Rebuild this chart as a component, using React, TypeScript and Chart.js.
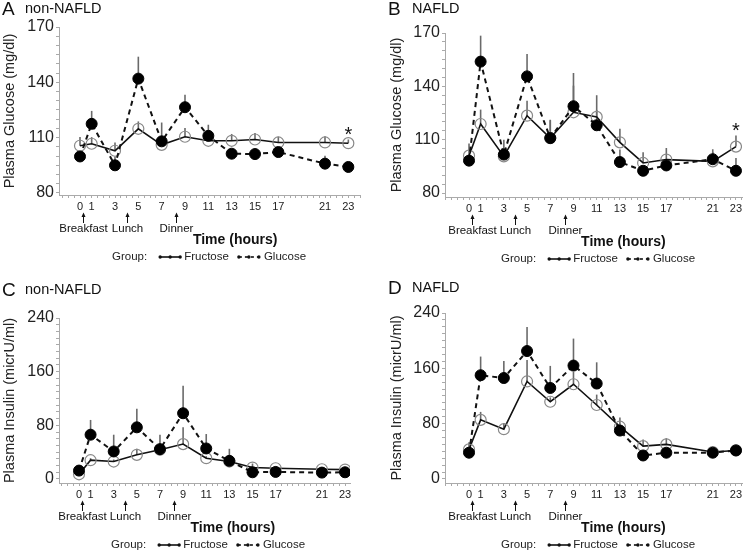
import React, { useEffect, useRef } from 'react';
import { Chart, registerables } from 'chart.js';

Chart.register(...registerables);

const FONT = '"Liberation Sans", Arial, Helvetica, sans-serif';

// ---- shared categories / labels ----
const hours = [0, 1, 3, 5, 7, 9, 11, 13, 15, 17, 21, 23];
const hourTickLabels = [0, 1, 3, 5, 7, 9, 11, 13, 15, 17, 21, 23];
const mealNames = ['Breakfast', 'Lunch', 'Dinner'];
const mealHours = [0.25, 4, 8.25];
const groupNames = ['Fructose', 'Glucose'];
const glucoseYTicks = [80, 110, 140, 170];
const insulinYTicks = [0, 80, 160, 240];

// ---- A: non-NAFLD plasma glucose ----
const aFructose = [105.6, 106.7, 102.9, 114.8, 106.1, 110.5, 108.3, 108.3, 109.0, 107.4, 107.4, 107.0];
const aFructoseUpper = [110.3, 110.3, 107.4, 118.8, 109.0, 115.2, 111.6, 112.0, 112.5, 110.5, 110.7, 109.0];
const aGlucose = [99.8, 117.5, 95.0, 142.0, 108.0, 126.5, 111.0, 101.3, 101.1, 102.2, 95.9, 94.1];
const aGlucoseUpper = [102.0, 124.5, 99.8, 153.9, 118.2, 133.2, 117.0, 103.0, 103.0, 104.0, 100.2, 96.0];

// ---- B: NAFLD plasma glucose ----
const bFructose = [101.0, 118.8, 100.6, 123.5, 110.9, 125.4, 122.8, 108.5, 96.9, 98.8, 97.8, 106.1];
const bFructoseUpper = [107.8, 126.9, 105.3, 131.9, 121.2, 140.4, 135.0, 116.2, 102.9, 105.3, 104.6, 112.3];
const bGlucose = [98.2, 153.9, 101.6, 145.6, 110.9, 128.8, 118.1, 97.4, 92.5, 95.5, 99.0, 92.5];
const bGlucoseUpper = [100.0, 168.5, 110.0, 158.2, 120.9, 147.5, 126.7, 104.4, 94.0, 97.0, 103.0, 99.7];

// ---- C: non-NAFLD plasma insulin ----
const cFructose = [7, 28, 26, 36, 43.5, 52, 31, 26, 17, 16, 14.5, 14];
const cFructoseUpper = [10, 31, 29, 45, 50, 77, 34, 29, 23, 19, 17, 17];
const cGlucose = [12.5, 66, 41, 77, 44.5, 98, 45.5, 27, 10, 10.5, 9.5, 10];
const cGlucoseUpper = [14, 88, 66, 104.6, 66, 139, 67, 45, 12, 12, 11, 12];

// ---- D: NAFLD plasma insulin ----
const dFructose = [42.8, 85.5, 72, 141, 111.7, 137, 107, 75.6, 47.5, 50, 39, 41.3];
const dFructoseUpper = [53, 97, 81, 172, 118, 155, 122, 89, 57, 59, 44, 49];
const dGlucose = [38, 150, 146, 185, 131.6, 164, 138, 70, 34, 38, 38, 41.3];
const dGlucoseUpper = [40, 177, 170.6, 219.7, 163.5, 203, 168.7, 80, 36, 40, 40, 43];

type Panel = {
  letter: string;
  cohort: string;
  yTitle: string;
  left: number;
  top: number;
  plotLeft: number;
  plotTop: number;
  plotBottom: number;
  plotRight: number;
  titleShift: number;
  xMin: number;
  xMax: number;
  yMin: number;
  yMax: number;
  yMajor: number[];
  yMinorStep: number;
  fructose: number[];
  fructoseUpper: number[];
  glucose: number[];
  glucoseUpper: number[];
  star: number | null;
  letterX: number;
  letterY: number;
  cohortX: number;
};

const W = 375;
const H = 275;
const X_AXIS_H = 20;

const panels: Panel[] = [
  {
    letter: 'A', cohort: 'non-NAFLD', yTitle: 'Plasma Glucose (mg/dl)', left: 0, top: 0,
    plotLeft: 59, plotTop: 27, plotBottom: 195, plotRight: 360, titleShift: 1,
    xMin: -1.8, xMax: 24.0, yMin: 78.9, yMax: 170, yMajor: glucoseYTicks, yMinorStep: 5,
    fructose: aFructose, fructoseUpper: aFructoseUpper, glucose: aGlucose, glucoseUpper: aGlucoseUpper,
    star: 114.3, letterX: 2, letterY: 10, cohortX: 25,
  },
  {
    letter: 'B', cohort: 'NAFLD', yTitle: 'Plasma Glucose (mg/dl)', left: 375, top: 0,
    plotLeft: 70, plotTop: 33, plotBottom: 197, plotRight: 367, titleShift: 13,
    xMin: -2.07, xMax: 23.52, yMin: 77.75, yMax: 170, yMajor: glucoseYTicks, yMinorStep: 5,
    fructose: bFructose, fructoseUpper: bFructoseUpper, glucose: bGlucose, glucoseUpper: bGlucoseUpper,
    star: 117.5, letterX: 13, letterY: 10, cohortX: 37,
  },
  {
    letter: 'C', cohort: 'non-NAFLD', yTitle: 'Plasma Insulin (micrU/ml)', left: 0, top: 275,
    plotLeft: 59, plotTop: 43, plotBottom: 208, plotRight: 350, titleShift: 1,
    xMin: -1.73, xMax: 23.43, yMin: -6, yMax: 240, yMajor: insulinYTicks, yMinorStep: 10,
    fructose: cFructose, fructoseUpper: cFructoseUpper, glucose: cGlucose, glucoseUpper: cGlucoseUpper,
    star: null, letterX: 2, letterY: 16, cohortX: 25,
  },
  {
    letter: 'D', cohort: 'NAFLD', yTitle: 'Plasma Insulin (micrU/ml)', left: 375, top: 275,
    plotLeft: 70, plotTop: 38, plotBottom: 208, plotRight: 367, titleShift: 13,
    xMin: -2.07, xMax: 23.52, yMin: -5.8, yMax: 240, yMajor: insulinYTicks, yMinorStep: 10,
    fructose: dFructose, fructoseUpper: dFructoseUpper, glucose: dGlucose, glucoseUpper: dGlucoseUpper,
    star: null, letterX: 13, letterY: 14, cohortX: 37,
  },
];

function makePlugin(p: Panel) {
  return {
    id: 'panelDecor' + p.letter,
    beforeDatasetsDraw(chart: any) {
      const ctx = chart.ctx;
      const ys = chart.scales.y;
      ctx.save();
      ctx.strokeStyle = '#6a6a6a';
      ctx.lineWidth = 1.6;
      ctx.setLineDash([]);
      chart.data.datasets.forEach((ds: any, di: number) => {
        const meta = chart.getDatasetMeta(di);
        const up: number[] = ds.errorUpper;
        meta.data.forEach((pt: any, i: number) => {
          const y2 = ys.getPixelForValue(up[i]);
          ctx.beginPath();
          ctx.moveTo(pt.x, pt.y);
          ctx.lineTo(pt.x, y2);
          ctx.stroke();
        });
      });
      ctx.restore();
    },
    afterDraw(chart: any) {
      const ctx = chart.ctx;
      const xs = chart.scales.x;
      const ys = chart.scales.y;
      const b = chart.chartArea.bottom;
      ctx.save();
      ctx.fillStyle = '#111';
      ctx.strokeStyle = '#111';
      ctx.textAlign = 'left';
      ctx.textBaseline = 'middle';
      // panel heading
      ctx.font = `19px ${FONT}`;
      ctx.fillText(p.letter, p.letterX, p.letterY);
      ctx.font = `14.5px ${FONT}`;
      ctx.fillText(p.cohort, p.cohortX, p.letterY - 1.5);

      // significance star
      if (p.star !== null) {
        ctx.font = `20px ${FONT}`;
        ctx.textAlign = 'center';
        ctx.textBaseline = 'alphabetic';
        ctx.fillText('*', xs.getPixelForValue(23), ys.getPixelForValue(p.star) + 11);
      }

      // meal arrows
      ctx.textAlign = 'center';
      ctx.textBaseline = 'middle';
      ctx.font = `11.5px ${FONT}`;
      ctx.lineWidth = 1;
      mealHours.forEach((h, i) => {
        const x = Math.round(xs.getPixelForValue(h)) + 0.5;
        ctx.beginPath();
        ctx.moveTo(x, b + 21);
        ctx.lineTo(x, b + 28);
        ctx.stroke();
        ctx.beginPath();
        ctx.moveTo(x, b + 17.5);
        ctx.lineTo(x - 2, b + 22);
        ctx.lineTo(x + 2, b + 22);
        ctx.closePath();
        ctx.fill();
        ctx.fillText(mealNames[i], x, b + 33.5);
      });

      // x axis title
      ctx.font = `bold 14px ${FONT}`;
      ctx.fillText('Time (hours)', xs.getPixelForValue(13.3), b + 45);

      // legend
      const ly = b + 62;
      let lx = xs.getPixelForValue(0) + 32;
      ctx.textAlign = 'left';
      ctx.font = `11.5px ${FONT}`;
      ctx.fillStyle = '#222';
      ctx.fillText('Group:', lx, ly);
      lx += ctx.measureText('Group:').width + 13;
      const sample = (x0: number, dashed: boolean) => {
        ctx.save();
        ctx.strokeStyle = '#111';
        ctx.fillStyle = '#111';
        ctx.lineWidth = 1.6;
        ctx.setLineDash(dashed ? [3, 3] : []);
        ctx.beginPath();
        ctx.moveTo(x0, ly);
        ctx.lineTo(x0 + 20, ly);
        ctx.stroke();
        ctx.setLineDash([]);
        [0, 10, 20].forEach((dx) => {
          ctx.beginPath();
          ctx.arc(x0 + dx, ly, 1.7, 0, Math.PI * 2);
          ctx.fill();
        });
        ctx.restore();
      };
      sample(lx, false);
      lx += 24;
      ctx.fillText(groupNames[0], lx, ly);
      lx += ctx.measureText(groupNames[0]).width + 10;
      sample(lx, true);
      lx += 25;
      ctx.fillText(groupNames[1], lx, ly);
      ctx.restore();
    },
  };
}

function PanelChart({ p }: { p: Panel }) {
  const ref = useRef<HTMLCanvasElement | null>(null);
  useEffect(() => {
    if (!ref.current) return;
    const xTicks: number[] = [];
    for (let k = Math.ceil(p.xMin * 2); k <= Math.floor(p.xMax * 2); k++) xTicks.push(k / 2);
    const yTicks: number[] = [];
    for (let v = Math.ceil(p.yMin / p.yMinorStep) * p.yMinorStep; v <= p.yMax; v += p.yMinorStep) yTicks.push(v);

    const chart = new Chart(ref.current, {
      type: 'line',
      data: {
        datasets: [
          {
            label: groupNames[1],
            data: hours.map((h, i) => ({ x: h, y: p.glucose[i] })),
            borderColor: '#111',
            borderWidth: 2,
            borderDash: [5, 4],
            pointRadius: 5.5,
            pointBackgroundColor: '#000',
            pointBorderColor: '#000',
            pointBorderWidth: 1,
            tension: 0,
            errorUpper: p.glucoseUpper,
          } as any,
          {
            label: groupNames[0],
            data: hours.map((h, i) => ({ x: h, y: p.fructose[i] })),
            borderColor: '#111',
            borderWidth: 1.6,
            pointRadius: 5.5,
            pointBackgroundColor: 'rgba(255,255,255,0)',
            pointBorderColor: '#888',
            pointBorderWidth: 1.2,
            tension: 0,
            errorUpper: p.fructoseUpper,
          } as any,
        ],
      },
      options: {
        responsive: false,
        animation: false,
        devicePixelRatio: 1,
        layout: {
          padding: { left: 0, top: p.plotTop, right: W - p.plotRight, bottom: H - p.plotBottom - X_AXIS_H },
        },
        plugins: { legend: { display: false }, tooltip: { enabled: false }, title: { display: false } },
        scales: {
          x: {
            type: 'linear',
            min: p.xMin,
            max: p.xMax,
            afterBuildTicks: (s: any) => { s.ticks = xTicks.map((v) => ({ value: v })); },
            afterFit: (s: any) => { s.height = X_AXIS_H; },
            grid: { drawOnChartArea: false, drawTicks: true, tickLength: 3, color: '#aaa' },
            border: { color: '#aaa', width: 1 },
            ticks: {
              autoSkip: false,
              maxRotation: 0,
              minRotation: 0,
              padding: 2,
              color: '#222',
              font: { family: FONT, size: 11 },
              callback: (v: any) => (hourTickLabels.includes(Number(v)) ? String(v) : ''),
            },
          },
          y: {
            type: 'linear',
            min: p.yMin,
            max: p.yMax,
            afterBuildTicks: (s: any) => { s.ticks = yTicks.map((v) => ({ value: v })); },
            afterFit: (s: any) => { s.width = p.plotLeft; },
            title: {
              display: true,
              text: p.yTitle,
              color: '#222',
              font: { family: FONT, size: 14.5 },
              padding: { top: p.titleShift, bottom: 0 },
            },
            grid: { drawOnChartArea: false, drawTicks: true, tickLength: 3, color: '#aaa' },
            border: { color: '#aaa', width: 1 },
            ticks: {
              autoSkip: false,
              padding: 2,
              color: '#222',
              font: { family: FONT, size: 16 },
              callback: (v: any) => (p.yMajor.includes(Number(v)) ? String(v) : ''),
            },
          },
        },
      },
      plugins: [makePlugin(p)],
    } as any);
    return () => chart.destroy();
  }, [p]);
  return (
    <div style={{ position: 'absolute', left: p.left, top: p.top, width: W, height: H }}>
      <canvas ref={ref} width={W} height={H} style={{ display: 'block', width: W, height: H }} />
    </div>
  );
}

export default function App() {
  return (
    <div style={{ position: 'absolute', left: 0, top: 0, width: 750, height: 550, background: '#fff' }}>
      {panels.map((p) => (
        <PanelChart key={p.letter} p={p} />
      ))}
    </div>
  );
}
